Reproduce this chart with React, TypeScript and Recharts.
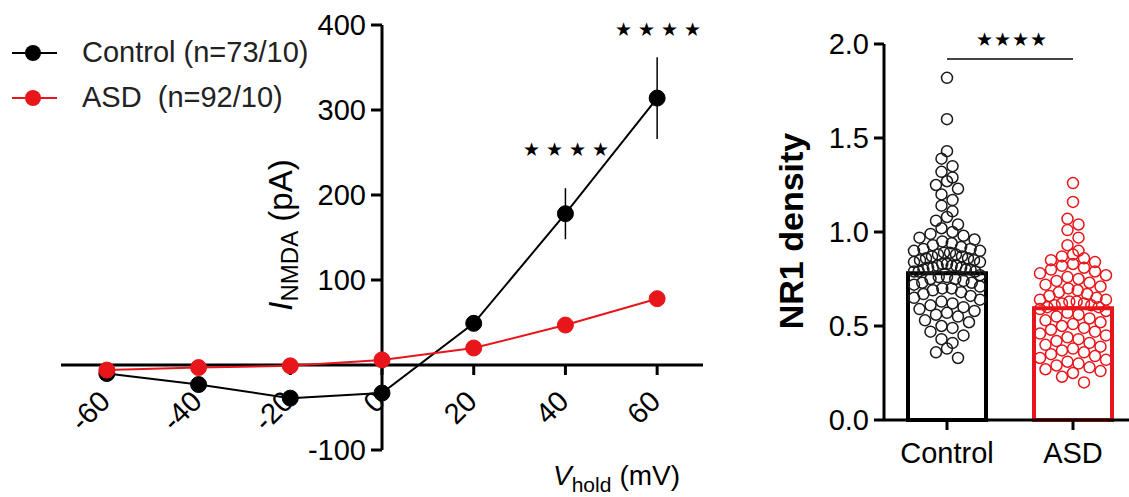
import React from 'react';
import {
  ComposedChart,
  LineChart,
  Line,
  Bar,
  Cell,
  Scatter,
  XAxis,
  YAxis,
  ErrorBar,
  Legend,
  ReferenceLine,
  ReferenceDot,
} from 'recharts';

// I-V curve (left panel)
const voltages = [-60, -40, -20, 0, 20, 40, 60];
const controlCurrent = [-10, -23, -39, -33, 49, 178, 314];
const controlSem = [3, 4, 5, 6, 8, 30, 48];
const asdCurrent = [-6, -3, -1, 6, 20, 47, 78];
const asdSem = [2, 2, 2, 3, 4, 5, 6];
const seriesNames = ['Control (n=73/10)', 'ASD  (n=92/10)'];
const xTickValues = [-60, -40, -20, 0, 20, 40, 60];
const yTickValues = [-100, 100, 200, 300, 400];
const starVoltages = [40, 60];
const starHeights = [254, 395];

// NR1 density (right panel)
const groups = ['Control', 'ASD'];
const groupMeans = [0.78, 0.595];
const controlDensity = [
  1.82, 1.6, 1.43, 1.39, 1.35,
  1.32, 1.29, 1.27, 1.25, 1.23, 1.2, 1.17, 1.14, 1.11, 1.08, 1.06, 1.04, 1.02, 1.0,
  0.99, 0.98, 0.97, 0.96, 0.95, 0.94, 0.93, 0.92, 0.91, 0.91, 0.9, 0.9,
  0.89, 0.89, 0.88, 0.88, 0.87, 0.87, 0.86, 0.86, 0.85, 0.85, 0.84, 0.84, 0.83, 0.83, 0.82,
  0.82, 0.82, 0.81, 0.81, 0.81, 0.8, 0.8, 0.8, 0.79, 0.79, 0.79,
  0.77, 0.76, 0.76, 0.75, 0.75, 0.74, 0.73, 0.73, 0.72, 0.71, 0.7, 0.7, 0.69, 0.68, 0.67,
  0.66, 0.65, 0.64, 0.63, 0.62, 0.61, 0.6, 0.59, 0.58, 0.57, 0.56, 0.55, 0.53, 0.52, 0.5,
  0.49, 0.47, 0.45, 0.43, 0.41, 0.38, 0.36, 0.33,
];
const asdDensity = [
  1.26, 1.16, 1.07, 1.04, 1.01, 0.97, 0.93,
  0.9, 0.88, 0.87, 0.86, 0.85, 0.84, 0.83, 0.82, 0.81, 0.8,
  0.79, 0.78, 0.77, 0.76, 0.75, 0.74, 0.73, 0.72, 0.71, 0.7, 0.69, 0.68, 0.67, 0.66,
  0.65, 0.64, 0.64, 0.63, 0.63, 0.62, 0.62, 0.61, 0.61, 0.6, 0.6, 0.59,
  0.58, 0.57, 0.56, 0.55, 0.54, 0.53, 0.52, 0.51, 0.5, 0.49, 0.48, 0.47, 0.46, 0.45, 0.44,
  0.43, 0.42, 0.41, 0.4, 0.39, 0.38, 0.37, 0.36, 0.35, 0.34, 0.33, 0.32, 0.31, 0.3, 0.29,
  0.28, 0.27, 0.26, 0.25, 0.23, 0.2,
];

const FONT = '"Liberation Sans", Arial, sans-serif';
const RED = '#e8161b';

const ivData = voltages.map((v, i) => ({
  v,
  control: controlCurrent[i],
  controlErr: controlSem[i],
  asd: asdCurrent[i],
  asdErr: asdSem[i],
}));

const barData = groups.map((name, i) => ({ name, mean: groupMeans[i] }));

// GraphPad-like scatter: points are binned in rows and spread sideways, squeezed when a row is full
function rowScatter(values: number[], center: number, binSize: number, pitch: number, maxWidth: number) {
  const bins = new Map<number, number[]>();
  values.forEach((val) => {
    const b = Math.floor(val / binSize);
    if (!bins.has(b)) bins.set(b, []);
    bins.get(b)!.push(val);
  });
  const out: { x: number; y: number }[] = [];
  bins.forEach((vals) => {
    const n = vals.length;
    const step = n > 1 ? Math.min(pitch, maxWidth / (n - 1)) : 0;
    const slots = vals.map((_, i) => (i - (n - 1) / 2) * step).sort((a, b) => Math.abs(a) - Math.abs(b));
    [...vals].sort((a, b) => b - a).forEach((val, i) => out.push({ x: center + slots[i], y: val }));
  });
  return out;
}

// 126 px per category, 188 px per density unit
const controlPoints = rowScatter(controlDensity, 0.5, 0.064, 11 / 126, 66 / 126);
const asdPoints = rowScatter(asdDensity, 1.5, 0.064, 11 / 126, 66 / 126);

function IVLegend({ payload }: any) {
  const items = [...(payload || [])].sort(
    (a: any, b: any) => seriesNames.indexOf(a.value) - seriesNames.indexOf(b.value)
  );
  return (
    <div style={{ fontFamily: FONT }}>
      {items.map((e: any) => (
        <div key={e.value} style={{ display: 'flex', alignItems: 'center', height: 45 }}>
          <svg width={70} height={20}>
            <line x1={12} x2={57} y1={10} y2={10} stroke={e.color} strokeWidth={2} />
            <circle cx={33} cy={10} r={8} fill={e.color} />
          </svg>
          <span style={{ fontSize: 29, marginLeft: 12, color: '#222', whiteSpace: 'pre' }}>{e.value}</span>
        </div>
      ))}
    </div>
  );
}

function IVChart() {
  return (
    <LineChart
      width={720}
      height={497}
      data={ivData}
      margin={{ top: 25, right: 17, bottom: 47, left: 61 }}
    >
      <XAxis dataKey="v" type="number" domain={[-70, 70]} hide />
      <YAxis type="number" domain={[-100, 400]} hide />
      <ReferenceLine y={0} stroke="#000" strokeWidth={3} />
      <ReferenceLine x={0} stroke="#000" strokeWidth={3} />
      {xTickValues.map((t) => (
        <ReferenceDot
          key={`xt${t}`}
          x={t}
          y={0}
          ifOverflow="visible"
          shape={(p: any) => (
            <g>
              <line x1={p.cx} x2={p.cx} y1={p.cy} y2={p.cy + 10} stroke="#000" strokeWidth={3} />
              <text
                x={p.cx + 5}
                y={p.cy + 38}
                textAnchor="end"
                fontSize={29}
                fontFamily={FONT}
                fill="#000"
                transform={`rotate(-45, ${p.cx + 5}, ${p.cy + 38})`}
              >
                {t}
              </text>
            </g>
          )}
        />
      ))}
      {yTickValues.map((t) => (
        <ReferenceDot
          key={`yt${t}`}
          x={0}
          y={t}
          ifOverflow="visible"
          shape={(p: any) => (
            <g>
              <line x1={p.cx - 11} x2={p.cx} y1={p.cy} y2={p.cy} stroke="#000" strokeWidth={3} />
              <text
                x={p.cx - 16}
                y={p.cy}
                dy="0.35em"
                textAnchor="end"
                fontSize={29}
                fontFamily={FONT}
                fill="#000"
              >
                {t}
              </text>
            </g>
          )}
        />
      ))}
      {starVoltages.map((v, i) => (
        <ReferenceDot
          key={`st${v}`}
          x={v}
          y={starHeights[i]}
          ifOverflow="visible"
          shape={(p: any) => (
            <text
              x={p.cx + 4}
              y={p.cy}
              dy="0.35em"
              textAnchor="middle"
              fontSize={19}
              letterSpacing={6}
              fill="#000"
            >
              ★★★★
            </text>
          )}
        />
      ))}
      <Legend
        layout="vertical"
        align="center"
        verticalAlign="middle"
        content={<IVLegend />}
        wrapperStyle={{ left: 0, top: 30, width: 340 }}
      />
      <Line
        dataKey="control"
        name={seriesNames[0]}
        stroke="#000"
        strokeWidth={2}
        dot={{ r: 8, fill: '#000', stroke: '#000', strokeWidth: 1 }}
        isAnimationActive={false}
      >
        <ErrorBar dataKey="controlErr" width={0} stroke="#000" strokeWidth={1.5} />
      </Line>
      <Line
        dataKey="asd"
        name={seriesNames[1]}
        stroke={RED}
        strokeWidth={2}
        dot={{ r: 8, fill: RED, stroke: RED, strokeWidth: 1 }}
        isAnimationActive={false}
      >
        <ErrorBar dataKey="asdErr" width={0} stroke={RED} strokeWidth={1.5} />
      </Line>
    </LineChart>
  );
}

function DensityChart() {
  const colors = ['#000', RED];
  return (
    <ComposedChart
      width={376}
      height={497}
      data={barData}
      margin={{ top: 44, right: 0, bottom: 17, left: 34 }}
    >
      <XAxis
        xAxisId="cat"
        dataKey="name"
        type="category"
        height={60}
        tickSize={10}
        tickMargin={12}
        axisLine={{ stroke: '#000', strokeWidth: 3 }}
        tickLine={{ stroke: '#000', strokeWidth: 3 }}
        tick={{ fontSize: 29, fill: '#000', fontFamily: FONT }}
      />
      <XAxis xAxisId="pts" dataKey="x" type="number" domain={[0, 2]} hide />
      <YAxis
        type="number"
        domain={[0, 2]}
        ticks={[0, 0.5, 1, 1.5, 2]}
        tickFormatter={(v: number) => v.toFixed(1)}
        width={90}
        tickSize={10}
        tickMargin={5}
        axisLine={{ stroke: '#000', strokeWidth: 3 }}
        tickLine={{ stroke: '#000', strokeWidth: 3 }}
        tick={{ fontSize: 29, fill: '#000', fontFamily: FONT }}
      />
      <Scatter
        xAxisId="pts"
        data={controlPoints}
        dataKey="y"
        isAnimationActive={false}
        shape={(p: any) => <circle cx={p.cx} cy={p.cy} r={5.5} fill="none" stroke="#1a1a1a" strokeWidth={1.5} />}
      />
      <Scatter
        xAxisId="pts"
        data={asdPoints}
        dataKey="y"
        isAnimationActive={false}
        shape={(p: any) => <circle cx={p.cx} cy={p.cy} r={5.5} fill="none" stroke={RED} strokeWidth={1.5} />}
      />
      <Bar xAxisId="cat" dataKey="mean" barSize={78} strokeWidth={4} isAnimationActive={false}>
        {barData.map((d, i) => (
          <Cell key={d.name} fill="#fff" fillOpacity={0.3} stroke={colors[i]} />
        ))}
      </Bar>
      <ReferenceLine
        xAxisId="pts"
        segment={[
          { x: 0.5, y: 1.92 },
          { x: 1.5, y: 1.92 },
        ]}
        stroke="#444"
        strokeWidth={2}
        label={(p: any) => {
          const vb = p.viewBox || {};
          const cx = (vb.x || 0) + (vb.width || 0) / 2;
          return (
            <text x={cx + 2} y={(vb.y || 0) - 20} dy="0.35em" textAnchor="middle" fontSize={19} letterSpacing={1} fill="#000">
              ★★★★
            </text>
          );
        }}
      />
    </ComposedChart>
  );
}

export default function App() {
  return (
    <div
      style={{
        position: 'fixed',
        left: 0,
        top: 0,
        width: 1129,
        height: 497,
        overflow: 'hidden',
        background: '#fff',
        fontFamily: FONT,
      }}
    >
      <div style={{ position: 'absolute', left: 0, top: 0 }}>
        <IVChart />
      </div>
      <div style={{ position: 'absolute', left: 760, top: 0 }}>
        <DensityChart />
      </div>
      <svg
        width={1129}
        height={497}
        style={{ position: 'absolute', left: 0, top: 0, pointerEvents: 'none' }}
        fontFamily={FONT}
      >
        <text transform="translate(292,235) rotate(-90)" textAnchor="middle" fontSize={33} fill="#000">
          <tspan fontStyle="italic">I</tspan>
          <tspan fontSize={24} dy={6}>NMDA</tspan>
          <tspan dy={-6}> (pA)</tspan>
        </text>
        <text x={553} y={485} fontSize={28} fill="#000">
          <tspan fontStyle="italic">V</tspan>
          <tspan fontSize={21} dy={7}>hold</tspan>
          <tspan dy={-7} dx={8}>(mV)</tspan>
        </text>
        <text transform="translate(803,231) rotate(-90)" textAnchor="middle" fontSize={34} fontWeight="bold" fill="#000">
          NR1 density
        </text>
      </svg>
    </div>
  );
}
